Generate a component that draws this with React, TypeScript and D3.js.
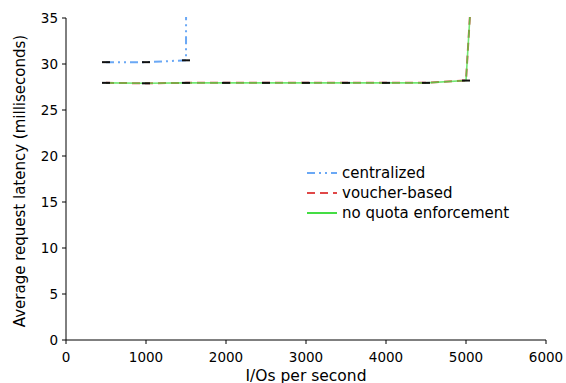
import React from "react";
import * as d3 from "d3";

const xTicks = [0, 1000, 2000, 3000, 4000, 5000, 6000];
const yTicks = [0, 5, 10, 15, 20, 25, 30, 35];

const centralizedX = [500, 1000, 1500, 1505];
const centralizedY = [30.2, 30.2, 30.4, 60];
const voucherX = [500, 1000, 1500, 2000, 2500, 3000, 3500, 4000, 4500, 5000, 5100];
const voucherY = [27.95, 27.9, 27.95, 27.95, 27.95, 27.95, 27.95, 27.95, 27.95, 28.2, 42.5];
const noQuotaX = [500, 1000, 1500, 2000, 2500, 3000, 3500, 4000, 4500, 5000, 5100];
const noQuotaY = [27.95, 27.9, 27.95, 27.95, 27.95, 27.95, 27.95, 27.95, 27.95, 28.2, 42.5];

const legendLabels = ["centralized", "voucher-based", "no quota enforcement"];

const W = 566, H = 383;
const left = 66, right = 546, top = 18, bottom = 340;
const font = "DejaVu Sans, Verdana, sans-serif";

export default function App() {
  const x = d3.scaleLinear().domain([0, 6000]).range([left, right]);
  const y = d3.scaleLinear().domain([0, 35]).range([bottom, top]);
  const line = d3.line<[number, number]>().x(d => x(d[0])).y(d => y(d[1]));
  const pts = (xs: number[], ys: number[]) => xs.map((v, i) => [v, ys[i]] as [number, number]);
  const cen = pts(centralizedX, centralizedY);
  const vou = pts(voucherX, voucherY);
  const noq = pts(noQuotaX, noQuotaY);
  const markerPts = (p: [number, number][]) => p.filter(d => d[1] <= 35 && d[0] % 500 === 0);

  const series = [
    { color: "#6aa8f5", dash: "8,4,2,4,2,4", width: 2 },
    { color: "#e04848", dash: "8,5", width: 2 },
    { color: "#44dd44", dash: "", width: 1.6 },
  ];

  return (
    <svg width={W} height={H} style={{ position: "absolute", left: 0, top: 0 }} fontFamily={font}>
      <rect width={W} height={H} fill="#fff" />
      <defs>
        <clipPath id="plot">
          <rect x={left} y={top - 1} width={right - left} height={bottom - top + 1} />
        </clipPath>
      </defs>
      {/* axes */}
      <line x1={left} x2={left} y1={top} y2={bottom} stroke="#000" strokeWidth={1} />
      <line x1={left} x2={right} y1={bottom} y2={bottom} stroke="#000" strokeWidth={1} />
      {yTicks.map(t => (
        <g key={"y" + t}>
          <line x1={left - 4} x2={left} y1={y(t)} y2={y(t)} stroke="#000" />
          <text x={left - 8} y={y(t)} dy="0.35em" textAnchor="end" fontSize={13.5} fill="#000">{t}</text>
        </g>
      ))}
      {xTicks.map(t => (
        <g key={"x" + t}>
          <line x1={x(t)} x2={x(t)} y1={bottom} y2={bottom + 4} stroke="#000" />
          <text x={x(t)} y={bottom + 22} textAnchor="middle" fontSize={13.5} fill="#000">{t}</text>
        </g>
      ))}
      <text x={306} y={381} textAnchor="middle" fontSize={15.5} fill="#000">I/Os per second</text>
      <text transform={`translate(25,${(top + bottom) / 2 + 2}) rotate(-90)`} textAnchor="middle" fontSize={15} fill="#000">
        Average request latency (milliseconds)
      </text>
      <g clipPath="url(#plot)">
        <path d={line(cen) || ""} fill="none" stroke={series[0].color} strokeWidth={2} strokeDasharray={series[0].dash} />
        <path d={line(vou) || ""} fill="none" stroke={series[1].color} strokeWidth={2} strokeDasharray={series[1].dash} />
        <path d={line(noq) || ""} fill="none" stroke={series[2].color} strokeWidth={1.6} strokeOpacity={0.75} />
        {[cen, vou].map((p, si) =>
          markerPts(p).map((d, i) => (
            <line key={si + "-" + i} x1={x(d[0]) - 4} x2={x(d[0]) + 4} y1={y(d[1])} y2={y(d[1])} stroke="#111" strokeWidth={2} />
          ))
        )}
      </g>
      {legendLabels.map((lab, i) => (
        <g key={lab}>
          <line x1={307} x2={337} y1={173 + i * 20} y2={173 + i * 20} stroke={series[i].color} strokeWidth={2} strokeDasharray={series[i].dash} />
          <text x={342} y={173 + i * 20} dy="0.35em" fontSize={15} fill="#000">{lab}</text>
        </g>
      ))}
    </svg>
  );
}
